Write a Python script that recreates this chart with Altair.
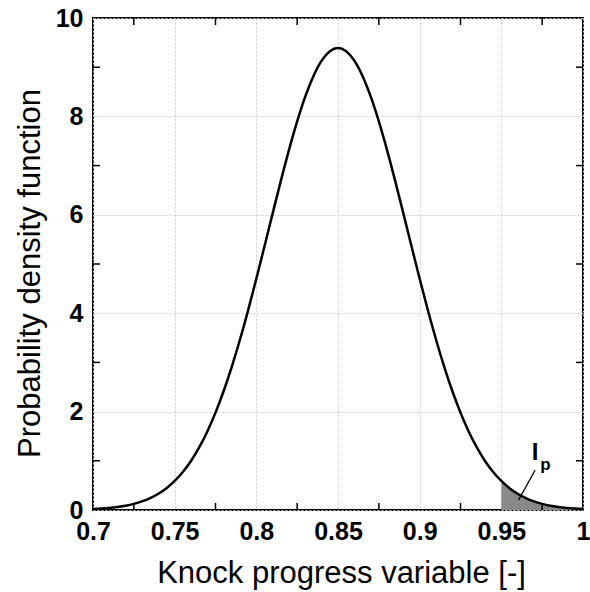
import altair as alt
import pandas as pd

# Knock progress variable (x) and probability density (y)
kpv = [0.700, 0.705, 0.710, 0.715, 0.720, 0.725, 0.730, 0.735, 0.740, 0.745,
       0.750, 0.755, 0.760, 0.765, 0.770, 0.775, 0.780, 0.785, 0.790, 0.795,
       0.800, 0.805, 0.810, 0.815, 0.820, 0.825, 0.830, 0.835, 0.840, 0.845,
       0.850, 0.855, 0.860, 0.865, 0.870, 0.875, 0.880, 0.885, 0.890, 0.895,
       0.900, 0.905, 0.910, 0.915, 0.920, 0.925, 0.930, 0.935, 0.940, 0.945,
       0.950, 0.955, 0.960, 0.965, 0.970, 0.975, 0.980, 0.985, 0.990, 0.995,
       1.000]
pdf = [0.019, 0.028, 0.041, 0.061, 0.087, 0.124, 0.174, 0.241, 0.330, 0.444,
       0.590, 0.772, 0.997, 1.271, 1.597, 1.979, 2.419, 2.916, 3.466, 4.064,
       4.701, 5.361, 6.030, 6.690, 7.320, 7.898, 8.406, 8.823, 9.134, 9.325,
       9.390, 9.325, 9.134, 8.823, 8.406, 7.898, 7.320, 6.690, 6.030, 5.361,
       4.701, 4.064, 3.466, 2.916, 2.419, 1.979, 1.597, 1.271, 0.997, 0.772,
       0.590, 0.444, 0.330, 0.241, 0.174, 0.124, 0.087, 0.061, 0.041, 0.028,
       0.019]

x_ticks = [0.7, 0.75, 0.8, 0.85, 0.9, 0.95, 1.0]
y_ticks = [0, 2, 4, 6, 8, 10]
x_minor = [0.725, 0.775, 0.825, 0.875, 0.925, 0.975]
y_minor = [1, 3, 5, 7, 9]
shade_start = 0.95

# annotation "I_p"
ann_main = ["I"]
ann_sub = ["p"]
ann_main_xy = [0.9707, 1.02]
ann_sub_xy = [0.9738, 0.81]
leader = [0.9707, 0.81, 0.9605, 0.20]

W, H = 490, 492
FONT = "Liberation Sans"

df = pd.DataFrame({"x": kpv, "y": pdf})
xscale = alt.Scale(domain=[0.7, 1.0], nice=False, zero=False)
yscale = alt.Scale(domain=[0, 10], nice=False)

xaxis = alt.Axis(values=x_ticks, format="~g", labelFont=FONT, labelFontSize=25,
                 labelFontWeight="bold", labelColor="black", labelPadding=9,
                 labelFlush=False, ticks=False, tickSize=0, domain=False,
                 grid=True, gridColor="#cccccc", gridDash=[2, 2], gridWidth=1,
                 title="Knock progress variable [-]", titleFont=FONT,
                 titleFontSize=31, titleFontWeight="normal", titleColor="black",
                 titleBaseline="alphabetic", titleAlign="center", titleX=248, titleY=72)
yaxis = alt.Axis(values=y_ticks, format="d", labelFont=FONT, labelFontSize=25,
                 labelFontWeight="bold", labelColor="black", labelPadding=10,
                 labelFlush=False, ticks=False, tickSize=0, domain=False,
                 grid=True, gridColor="#cccccc", gridDash=[2, 2], gridWidth=1,
                 title="Probability density function", titleFont=FONT,
                 titleFontSize=31, titleFontWeight="normal", titleColor="black",
                 titleBaseline="alphabetic", titleAlign="center", titleAngle=270,
                 titleX=-54, titleY=255)

base = alt.Chart(df)

area = base.transform_filter(alt.datum.x >= shade_start).mark_area(
    color="#8a8a8a", interpolate="monotone", opacity=1
).encode(
    x=alt.X("x:Q", scale=xscale, axis=xaxis),
    y=alt.Y("y:Q", scale=yscale, axis=yaxis),
)

line = base.mark_line(color="black", strokeWidth=2.5, interpolate="monotone").encode(
    x=alt.X("x:Q", scale=xscale),
    y=alt.Y("y:Q", scale=yscale),
)

xm = pd.DataFrame({"v": x_minor})
ym = pd.DataFrame({"v": y_minor})
tick_style = dict(color="black", strokeWidth=1.5)
tb = alt.Chart(xm).mark_rule(**tick_style).encode(
    x=alt.X("v:Q", scale=xscale), y=alt.value(H), y2=alt.value(H - 7))
tt = alt.Chart(xm).mark_rule(**tick_style).encode(
    x=alt.X("v:Q", scale=xscale), y=alt.value(0), y2=alt.value(7))
tl = alt.Chart(ym).mark_rule(**tick_style).encode(
    y=alt.Y("v:Q", scale=yscale), x=alt.value(0), x2=alt.value(7))
tr = alt.Chart(ym).mark_rule(**tick_style).encode(
    y=alt.Y("v:Q", scale=yscale), x=alt.value(W), x2=alt.value(W - 7))

ldf = pd.DataFrame({"x1": [leader[0]], "y1": [leader[1]], "x2": [leader[2]], "y2": [leader[3]]})
lead = alt.Chart(ldf).mark_rule(color="black", strokeWidth=1.2).encode(
    x=alt.X("x1:Q", scale=xscale), y=alt.Y("y1:Q", scale=yscale),
    x2="x2:Q", y2="y2:Q")

t1 = alt.Chart(pd.DataFrame({"x": [ann_main_xy[0]], "y": [ann_main_xy[1]], "t": ann_main})).mark_text(
    font=FONT, fontSize=24, fontWeight="bold", align="center", baseline="alphabetic", color="black"
).encode(x=alt.X("x:Q", scale=xscale), y=alt.Y("y:Q", scale=yscale), text="t:N")
t2 = alt.Chart(pd.DataFrame({"x": [ann_sub_xy[0]], "y": [ann_sub_xy[1]], "t": ann_sub})).mark_text(
    font=FONT, fontSize=17, fontWeight="bold", align="left", baseline="alphabetic", color="black"
).encode(x=alt.X("x:Q", scale=xscale), y=alt.Y("y:Q", scale=yscale), text="t:N")

chart = alt.layer(area, line, lead, t1, t2, tb, tt, tl, tr).properties(
    width=W, height=H,
    autosize=alt.AutoSizeParams(type="none"),
    padding={"left": 93, "top": 18, "right": 7, "bottom": 82},
    background="white",
).configure_view(stroke="black", strokeWidth=2)

chart.save("out.html", embed_options={"renderer": "svg", "actions": False})
